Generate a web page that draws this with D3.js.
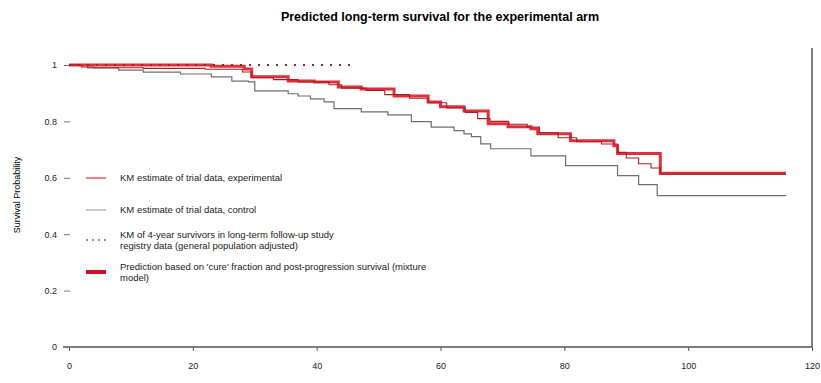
<!DOCTYPE html>
<html>
<head>
<meta charset="utf-8">
<script src="https://cdn.jsdelivr.net/npm/d3@7"></script>
<style>
  body { margin: 0; background: #fff; }
  svg { font-family: "Liberation Sans", Arial, sans-serif; }
</style>
</head>
<body>
<svg id="chart" width="821" height="383"></svg>
<script>
// data (months, survival probability)
const kmExpT = [0, 2, 4, 12, 22, 28, 29.5, 33, 37, 42, 44, 48, 51, 55, 58, 61, 64, 66, 68, 71, 74, 76, 79, 82, 86, 88.6, 90, 92, 94, 95.5, 115.8];
const kmExpS = [1, 0.993, 0.99, 0.988, 0.985, 0.975, 0.955, 0.948, 0.94, 0.93, 0.918, 0.91, 0.895, 0.882, 0.866, 0.848, 0.832, 0.81, 0.8, 0.79, 0.78, 0.76, 0.742, 0.728, 0.72, 0.69, 0.67, 0.65, 0.635, 0.613, 0.613];

const kmCtlT = [0, 3, 8, 12, 18, 23, 26.3, 29, 30, 35.4, 37, 39, 41.2, 42.8, 47.2, 51.5, 55.3, 58.5, 62.2, 63.8, 65, 66.5, 68.1, 74.6, 80.2, 88.6, 92, 95, 115.8];
const kmCtlS = [1, 0.99, 0.982, 0.975, 0.968, 0.958, 0.943, 0.94, 0.908, 0.898, 0.89, 0.88, 0.869, 0.845, 0.834, 0.823, 0.799, 0.78, 0.767, 0.756, 0.746, 0.72, 0.703, 0.678, 0.643, 0.608, 0.576, 0.537, 0.537];

const longT = [0, 45.5];
const longS = [1, 1];

const predT = [0, 23, 28.3, 29.5, 35.4, 39.6, 43.5, 47.2, 52.5, 58, 60, 63.8, 67.7, 70.9, 74.6, 75.7, 81, 88, 88.6, 95.5, 115.8];
const predS = [1, 0.996, 0.986, 0.958, 0.943, 0.94, 0.922, 0.915, 0.89, 0.869, 0.852, 0.837, 0.792, 0.781, 0.774, 0.756, 0.731, 0.714, 0.686, 0.616, 0.616];

const xTicks = [0, 20, 40, 60, 80, 100, 120];
const yTicks = [0, 0.2, 0.4, 0.6, 0.8, 1];

const legendLabels = [
  ["KM estimate of trial data, experimental"],
  ["KM estimate of trial data, control"],
  ["KM of 4-year survivors in long-term follow-up study", "registry data (general population adjusted)"],
  ["Prediction based on 'cure' fraction and post-progression survival (mixture", "model)"]
];

const svg = d3.select("#chart");

const x = d3.scaleLinear().domain([0, 120]).range([69, 812]);
const y = d3.scaleLinear().domain([0, 1]).range([347, 65]);

// title
svg.append("text")
  .attr("x", 440).attr("y", 21)
  .attr("text-anchor", "middle")
  .attr("font-size", 12.5).attr("font-weight", "bold")
  .text("Predicted long-term survival for the experimental arm");

// x axis
const xAxis = svg.append("g")
  .attr("transform", "translate(0,347)")
  .call(d3.axisBottom(x).tickValues(xTicks).tickSize(4).tickPadding(12));
xAxis.select(".domain").remove();
xAxis.append("line")
  .attr("x1", 63).attr("x2", 812)
  .attr("stroke", "#555").attr("stroke-width", 1.5);
xAxis.selectAll("text").attr("font-size", 9).attr("fill", "#222");
xAxis.selectAll(".tick line").attr("stroke", "#555");

// right edge line
svg.append("line")
  .attr("x1", 812).attr("x2", 812).attr("y1", 48).attr("y2", 347)
  .attr("stroke", "#555").attr("stroke-width", 1.5);

// y axis
const yAxis = svg.append("g")
  .attr("transform", "translate(70,0)")
  .call(d3.axisLeft(y).tickValues(yTicks).tickSize(6).tickPadding(7).tickFormat(d3.format("")));
yAxis.select(".domain").remove();
yAxis.selectAll("text").attr("font-size", 9).attr("fill", "#222");
yAxis.selectAll(".tick line").attr("stroke", "#777");

svg.append("text")
  .attr("transform", "translate(20,195) rotate(-90)")
  .attr("text-anchor", "middle")
  .attr("font-size", 9)
  .text("Survival Probability");

const step = d3.line().curve(d3.curveStepAfter)
  .x(d => x(d[0])).y(d => y(d[1]));
const zip = (t, s) => t.map((v, i) => [v, s[i]]);

svg.append("path").datum(zip(kmCtlT, kmCtlS))
  .attr("d", step).attr("fill", "none")
  .attr("stroke", "#6f6f6f").attr("stroke-width", 1.2);

svg.append("path").datum(zip(predT, predS))
  .attr("d", step).attr("fill", "none")
  .attr("stroke", "#e0303a").attr("stroke-width", 3);

svg.append("path").datum(zip(kmExpT, kmExpS))
  .attr("d", step).attr("fill", "none")
  .attr("stroke", "#b01c24").attr("stroke-width", 1.1);

svg.append("path").datum(zip(longT, longS))
  .attr("d", step).attr("fill", "none")
  .attr("stroke", "#8a2a2a").attr("stroke-width", 2)
  .attr("stroke-dasharray", "2,7");

// legend
const legendY = [178, 210, 240, 272];
const legend = svg.append("g");
const markers = [
  { stroke: "#e0303a", width: 1.2, dash: null },
  { stroke: "#999", width: 1, dash: null },
  { stroke: "#777", width: 1.5, dash: "2,4" },
  { stroke: "#d0102a", width: 4, dash: null }
];
legendLabels.forEach((lines, i) => {
  const m = markers[i];
  legend.append("line")
    .attr("x1", 86).attr("x2", 106)
    .attr("y1", legendY[i]).attr("y2", legendY[i])
    .attr("stroke", m.stroke).attr("stroke-width", m.width)
    .attr("stroke-dasharray", m.dash);
  const first = lines.length > 1 ? legendY[i] - 5 : legendY[i];
  lines.forEach((line, j) => {
    legend.append("text")
      .attr("x", 120).attr("y", first + j * 11)
      .attr("dy", "0.35em")
      .attr("font-size", 9.5).attr("fill", "#222")
      .text(line);
  });
});
</script>
</body>
</html>
